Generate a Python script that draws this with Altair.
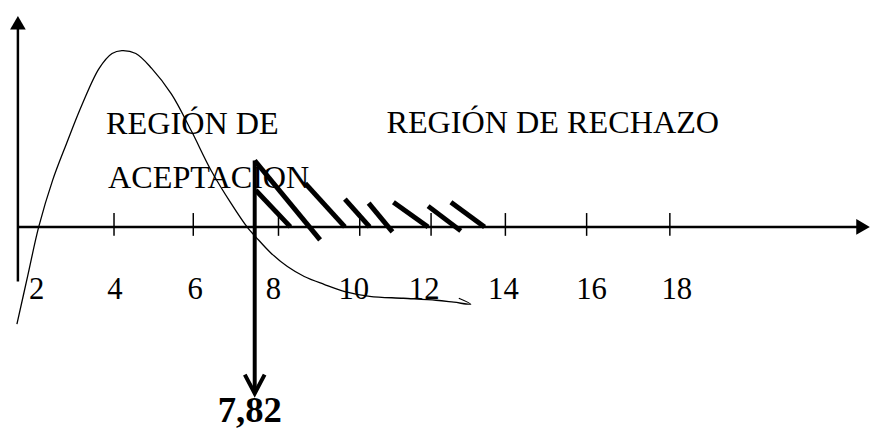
import altair as alt
import pandas as pd

# Hand-drawn density curve (x in axis units, y in density-like units)
curve_x = [1.55, 1.825, 2.1, 2.45, 2.8, 3.2, 3.625, 3.95, 4.2, 4.55, 4.95, 5.45, 5.95, 6.45,
           6.95, 7.375, 7.575, 7.95, 8.375, 8.8, 9.3, 9.8, 10.45, 11.3, 12.125, 12.575, 13.0, 12.7]
curve_y = [-0.098, -0.049, 0.0, 0.047, 0.084, 0.124, 0.160, 0.175, 0.178, 0.175, 0.160, 0.134,
           0.097, 0.057, 0.024, -0.001, -0.010, -0.026, -0.040, -0.050, -0.058, -0.065, -0.070,
           -0.072, -0.074, -0.076, -0.078, -0.072]

# Tick marks on the horizontal axis (as drawn) and their labels
tick_x = [4.0, 6.0, 8.15, 10.2, 12.0, 13.875, 15.925, 18.025]
tick_top, tick_bottom = 0.014, -0.009
label_text = ["2", "4", "6", "8", "10", "12", "14", "16", "18"]
label_x = [2.05, 4.025, 6.05, 8.025, 10.05, 11.825, 13.825, 16.05, 18.2]
label_y = -0.073

# Hatching of the rejection region (start and end of each stroke)
hatch_x = [7.55, 7.575, 8.825, 9.825, 10.425, 11.05, 11.925, 12.5]
hatch_y = [0.067, 0.037, 0.044, 0.028, 0.024, 0.025, 0.021, 0.025]
hatch_x2 = [9.2, 8.45, 9.825, 10.45, 11.025, 11.925, 12.75, 13.35]
hatch_y2 = [-0.013, 0.0, 0.0, 0.0, -0.005, 0.0, -0.004, 0.0]

# Critical value marker
critical_label = "7,82"
critical_x = 7.55
critical_top = 0.067
critical_bottom = -0.167
critical_label_y = -0.197

# Region labels
region_text = ["REGIÓN DE", "ACEPTACION", "REGIÓN DE RECHAZO"]
region_x = [3.8, 3.85, 10.875]
region_y = [0.094, 0.039, 0.095]

# Axis extents
axis_x0, axis_x1 = 1.575, 22.9
axis_y0, axis_y1 = -0.055, 0.206

xs = alt.Scale(domain=[1.325, 23.075], nice=False, zero=False)
ys = alt.Scale(domain=[-0.202, 0.219], nice=False, zero=False)
FONT = "Liberation Serif"


def X(f="x"):
    return alt.X(f"{f}:Q", scale=xs, axis=None)


def Y(f="y"):
    return alt.Y(f"{f}:Q", scale=ys, axis=None)


curve_df = pd.DataFrame({"x": curve_x, "y": curve_y, "i": list(range(len(curve_x)))})
curve = alt.Chart(curve_df).mark_line(
    color="black", strokeWidth=1.3, interpolate="catmull-rom").encode(
    x=X(), y=Y(), order="i:Q")

axes_df = pd.DataFrame({
    "x": [axis_x0, axis_x0], "x2": [axis_x1, axis_x0],
    "y": [0.0, axis_y0], "y2": [0.0, axis_y1]})
axes = alt.Chart(axes_df).mark_rule(color="black", strokeWidth=2.5).encode(
    x=X(), x2="x2:Q", y=Y(), y2="y2:Q")

head_r_df = pd.DataFrame({"x": [axis_x1], "y": [0.0]})
head_r = alt.Chart(head_r_df).mark_point(
    filled=True, color="black", opacity=1, size=250, shape="triangle-right").encode(x=X(), y=Y())
head_u_df = pd.DataFrame({"x": [axis_x0], "y": [axis_y1]})
head_u = alt.Chart(head_u_df).mark_point(
    filled=True, color="black", opacity=1, size=250, shape="triangle-up").encode(x=X(), y=Y())

ticks_df = pd.DataFrame({"x": tick_x, "y": [tick_top] * len(tick_x),
                         "y2": [tick_bottom] * len(tick_x)})
ticks = alt.Chart(ticks_df).mark_rule(color="black", strokeWidth=1.5).encode(
    x=X(), y=Y(), y2="y2:Q")

labels_df = pd.DataFrame({"x": label_x, "y": [label_y] * len(label_x), "t": label_text})
labels = alt.Chart(labels_df).mark_text(
    font=FONT, fontSize=31, align="center", baseline="alphabetic", color="black").encode(
    x=X(), y=Y(), text="t:N")

hatch_df = pd.DataFrame({"x": hatch_x, "y": hatch_y, "x2": hatch_x2, "y2": hatch_y2})
hatch = alt.Chart(hatch_df).mark_rule(color="black", strokeWidth=5).encode(
    x=X(), y=Y(), x2="x2:Q", y2="y2:Q")

crit_df = pd.DataFrame({"x": [critical_x], "y": [critical_top], "y2": [critical_bottom]})
crit = alt.Chart(crit_df).mark_rule(color="black", strokeWidth=4).encode(
    x=X(), y=Y(), y2="y2:Q")

chev_df = pd.DataFrame({"x": [critical_x - 0.25, critical_x, critical_x + 0.25],
                        "y": [critical_bottom + 0.018, critical_bottom - 0.001, critical_bottom + 0.018],
                        "i": [0, 1, 2]})
chev = alt.Chart(chev_df).mark_line(color="black", strokeWidth=4, strokeJoin="miter").encode(
    x=X(), y=Y(), order="i:Q")

crit_lab_df = pd.DataFrame({"x": [critical_x - 0.125], "y": [critical_label_y], "t": [critical_label]})
crit_lab = alt.Chart(crit_lab_df).mark_text(
    font=FONT, fontSize=37, fontWeight="bold", align="center", baseline="alphabetic",
    color="black").encode(x=X(), y=Y(), text="t:N")

region_df = pd.DataFrame({"x": region_x, "y": region_y, "t": region_text})
regions = alt.Chart(region_df).mark_text(
    font=FONT, fontSize=32.5, align="left", baseline="alphabetic", color="black").encode(
    x=X(), y=Y(), text="t:N")

chart = alt.layer(curve, axes, head_r, head_u, ticks, labels, regions, hatch, crit, chev, crit_lab).properties(
    width=870, height=421, padding=0, autosize="none"
).configure_view(stroke=None)

chart.save("out.html", embed_options={"renderer": "svg", "actions": False})
